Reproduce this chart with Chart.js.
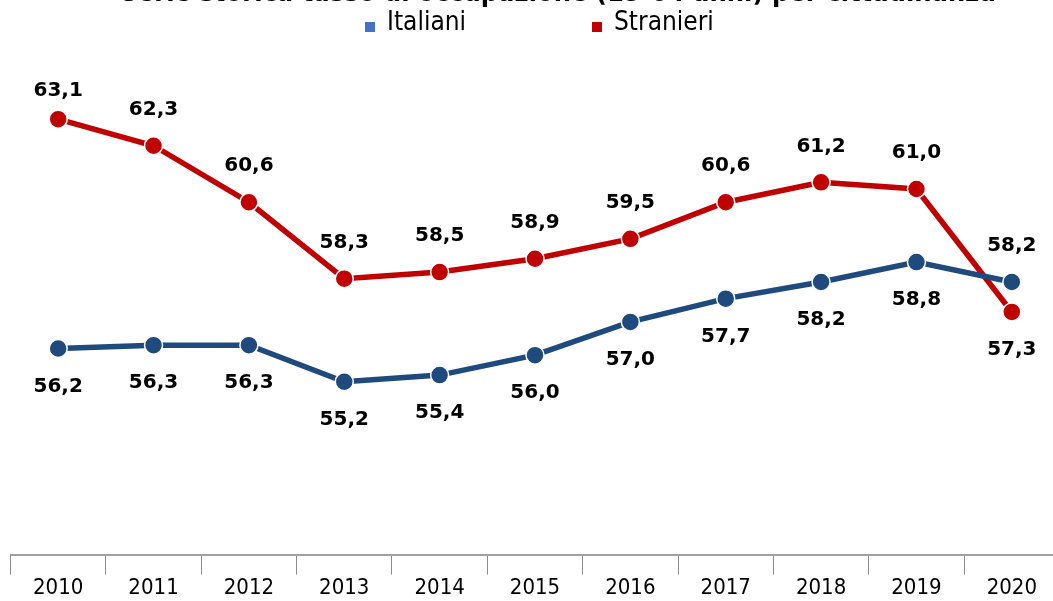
<!DOCTYPE html>
<html>
<head>
<meta charset="utf-8">
<script src="https://cdn.jsdelivr.net/npm/chart.js@4/dist/chart.umd.min.js"></script>
<style>
  html,body{margin:0;padding:0;background:#fff;overflow:hidden;width:1053px;height:601px;}
  #chart{display:block;}
</style>
</head>
<body>
<canvas id="chart" width="1070" height="601"></canvas>
<script>
// data
const years = ['2010','2011','2012','2013','2014','2015','2016','2017','2018','2019','2020'];
const italiani = [56.2, 56.3, 56.3, 55.2, 55.4, 56.0, 57.0, 57.7, 58.2, 58.8, 58.2];
const stranieri = [63.1, 62.3, 60.6, 58.3, 58.5, 58.9, 59.5, 60.6, 61.2, 61.0, 57.3];
const titleText = 'Serie storica tasso di occupazione (15-64 anni) per cittadinanza';

const fmt = v => v.toFixed(1).replace('.', ',');

// title (cut off at the top like the original) + legend
const headerPlugin = {
  id: 'header',
  afterDraw(chart){
    const ctx = chart.ctx;
    ctx.save();
    ctx.fillStyle = '#000';
    ctx.textBaseline = 'alphabetic';
    ctx.textAlign = 'center';
    ctx.font = 'bold 27px "DejaVu Sans Condensed", "DejaVu Sans", sans-serif';
    ctx.fillText(titleText, 558, 1);

    const items = [
      {label: 'Italiani', color: '#4472C4', x: 365},
      {label: 'Stranieri', color: '#C00000', x: 592}
    ];
    ctx.textAlign = 'left';
    ctx.textBaseline = 'middle';
    ctx.font = '26px "DejaVu Sans Condensed", "DejaVu Sans", sans-serif';
    items.forEach(it=>{
      ctx.fillStyle = it.color;
      ctx.fillRect(it.x, 22, 10, 10);
      ctx.fillStyle = '#000';
      ctx.fillText(it.label, it.x + 22, 23);
    });
    ctx.restore();
  }
};

// value labels: above the point for the higher series, below for the lower one
const labelPlugin = {
  id: 'valueLabels',
  afterDatasetsDraw(chart){
    const ctx = chart.ctx;
    const ds = chart.data.datasets;
    ctx.save();
    ctx.font = 'bold 20px "DejaVu Sans", sans-serif';
    ctx.fillStyle = '#000';
    ctx.textAlign = 'center';
    ctx.textBaseline = 'middle';
    ds.forEach((d, i)=>{
      const other = ds[1 - i].data;
      chart.getDatasetMeta(i).data.forEach((pt, j)=>{
        const above = d.data[j] >= other[j];
        let y = above ? pt.y - 36 : pt.y + 38;
        y = Math.max(y, chart.chartArea.top + 35);
        ctx.fillText(fmt(d.data[j]), pt.x, y);
      });
    });
    ctx.restore();
  }
};

new Chart(document.getElementById('chart'), {
  type: 'line',
  data: {
    labels: years,
    datasets: [
      {label: 'Italiani', data: italiani, borderColor: '#1F4A7D', backgroundColor: '#1F4A7D',
       pointBackgroundColor: '#1F4A7D', pointBorderColor: '#fff', pointBorderWidth: 1.5,
       pointRadius: 9, borderWidth: 5.5, tension: 0},
      {label: 'Stranieri', data: stranieri, borderColor: '#C00000', backgroundColor: '#C00000',
       pointBackgroundColor: '#C00000', pointBorderColor: '#fff', pointBorderWidth: 1.5,
       pointRadius: 9, borderWidth: 5.5, tension: 0}
    ]
  },
  options: {
    responsive: false,
    animation: false,
    devicePixelRatio: 1,
    layout: {padding: {left: 10, right: 6, top: 56, bottom: 0}},
    plugins: {legend: {display: false}, title: {display: false}, tooltip: {enabled: false}},
    scales: {
      x: {
        offset: true,
        grid: {display: true, drawOnChartArea: false, offset: true, tickLength: 20, color: '#8c8c8c', lineWidth: 1},
        border: {display: true, color: '#a0a0a0', width: 2},
        ticks: {padding: 0, color: '#000', font: {family: '"DejaVu Sans Condensed", "DejaVu Sans", sans-serif', size: 22}, maxRotation: 0}
      },
      y: {display: false, min: 50, max: 65}
    }
  },
  plugins: [headerPlugin, labelPlugin]
});
</script>
</body>
</html>
